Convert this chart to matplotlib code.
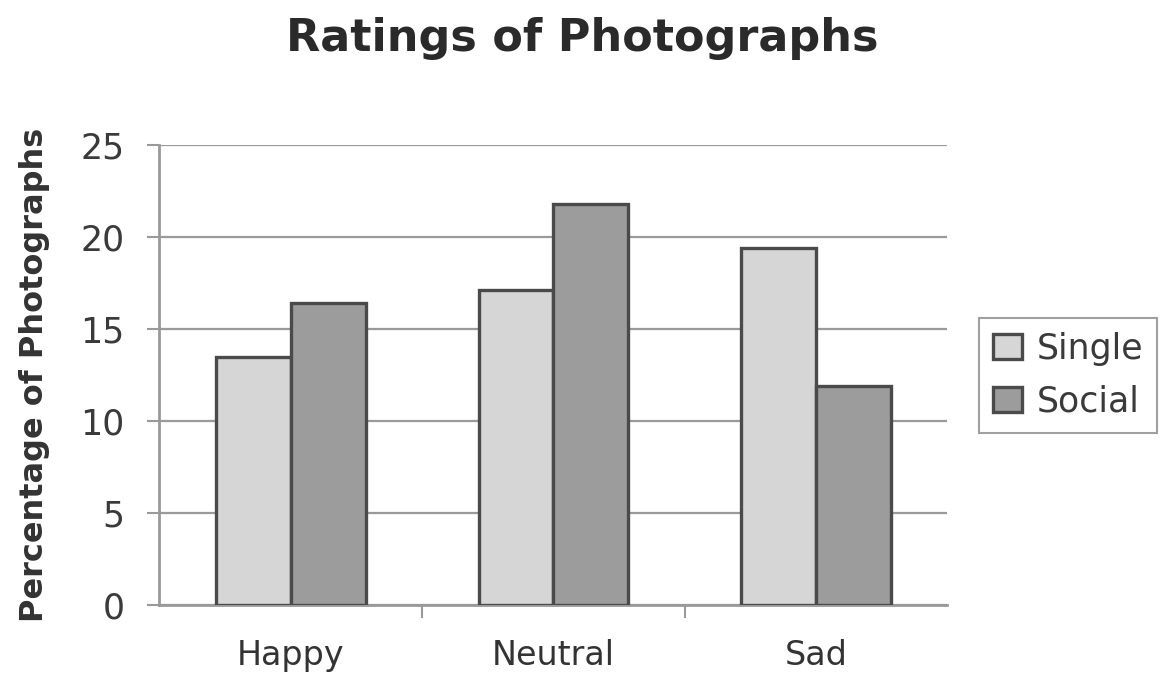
import numpy as np
import matplotlib.pyplot as plt

plt.rcParams['font.family'] = ['DejaVu Sans']

# Percentage of photographs in each rating category
categories = ['Happy', 'Neutral', 'Sad']
single = [13.5, 17.1, 19.4]
social = [16.4, 21.8, 11.9]

fig = plt.figure(figsize=(11.64, 6.84), dpi=100)
ax = fig.add_axes([0.137, 0.115, 0.677, 0.673])

x = np.arange(len(categories))
w = 0.285
ax.bar(x - w / 2, single, w, color='#d6d6d6', edgecolor='#4a4a4a', linewidth=2.4,
       label='Single', zorder=3)
ax.bar(x + w / 2, social, w, color='#9c9c9c', edgecolor='#4a4a4a', linewidth=2.4,
       label='Social', zorder=3)

ax.set_xlim(-0.5, 2.5)
ax.set_ylim(0, 25)
ax.set_yticks(range(0, 26, 5))
ax.set_xticks(x)
ax.set_xticklabels(categories, fontsize=24, color='#333333')
ax.tick_params(axis='y', labelsize=25, labelcolor='#3a3a3a', length=9,
               color='#999999', width=1.5, pad=16)
ax.tick_params(axis='x', length=0, pad=24)
# small boundary ticks between categories
ax.set_xticks([0.5, 1.5], minor=True)
ax.tick_params(axis='x', which='minor', length=9, color='#999999', width=1.5,
               direction='out')

ax.grid(axis='y', color='#9a9a9a', linewidth=1.6, zorder=0)
for side in ['top', 'right']:
    ax.spines[side].set_visible(False)
ax.spines['left'].set_color('#999999')
ax.spines['left'].set_linewidth(2)
ax.spines['bottom'].set_color('#999999')
ax.spines['bottom'].set_linewidth(2)

ax.set_ylabel('Percentage of Photographs', fontsize=23, fontweight='bold',
              color='#333333', labelpad=22)
fig.suptitle('Ratings of Photographs', fontsize=32, fontweight='bold',
             color='#2a2a2a', y=0.975)

leg = ax.legend(loc='center left', bbox_to_anchor=(1.04, 0.5), fontsize=25,
                frameon=True, fancybox=False, edgecolor='#888888',
                handlelength=0.85, handleheight=0.75, handletextpad=0.4,
                borderpad=0.4, labelspacing=0.55, borderaxespad=0)
leg.get_frame().set_linewidth(1.5)
for t in leg.get_texts():
    t.set_color('#3a3a3a')

fig.savefig('out.png', dpi=100, facecolor='white')
